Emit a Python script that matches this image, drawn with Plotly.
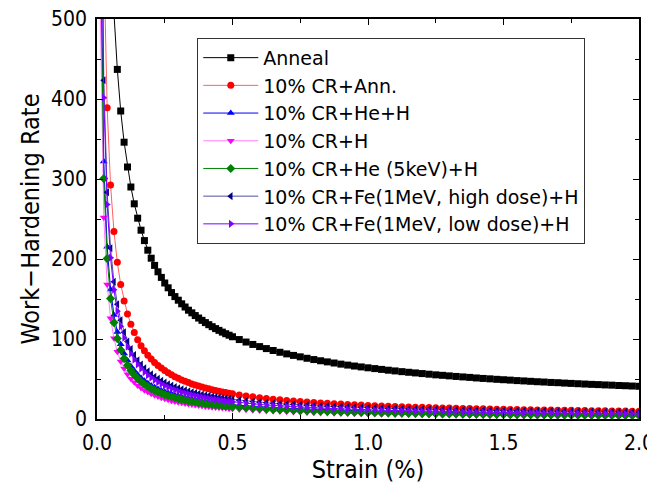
import plotly.graph_objects as go

strain = [0.0125, 0.025, 0.0375, 0.05, 0.0625, 0.075, 0.0875, 0.1, 0.1125, 0.125,
          0.1375, 0.15, 0.1625, 0.175, 0.1875, 0.2, 0.2125, 0.225, 0.2375, 0.25,
          0.2625, 0.275, 0.2875, 0.3, 0.3125, 0.325, 0.3375, 0.35, 0.3625, 0.375,
          0.3875, 0.4, 0.4125, 0.425, 0.4375, 0.45, 0.4625, 0.475, 0.4875, 0.5,
          0.525, 0.55, 0.575, 0.6, 0.625, 0.65, 0.675, 0.7, 0.725, 0.75,
          0.775, 0.8, 0.825, 0.85, 0.875, 0.9, 0.925, 0.95, 0.975, 1.0,
          1.025, 1.05, 1.075, 1.1, 1.125, 1.15, 1.175, 1.2, 1.225, 1.25,
          1.275, 1.3, 1.325, 1.35, 1.375, 1.4, 1.425, 1.45, 1.475, 1.5,
          1.525, 1.55, 1.575, 1.6, 1.625, 1.65, 1.675, 1.7, 1.725, 1.75,
          1.775, 1.8, 1.825, 1.85, 1.875, 1.9, 1.925, 1.95, 1.975, 2.0]

anneal = [2065, 1112, 782, 612, 508, 437, 385, 346, 315, 290,
          269, 251, 236, 223, 211, 201, 192, 184, 177, 170,
          164, 158, 153, 148.5, 144, 140, 136, 132.7, 129.3, 126.2,
          123.3, 120.5, 117.9, 115.4, 113, 110.8, 108.6, 106.6, 104.7, 102.8,
          99.3, 96.2, 93.2, 90.5, 88, 85.6, 83.4, 81.4, 79.5, 77.7,
          75.9, 74.3, 72.8, 71.4, 70, 68.6, 67.4, 66.2, 65.1, 64,
          63, 62, 61, 60.1, 59.2, 58.4, 57.6, 56.8, 56, 55.2,
          54.6, 53.9, 53.2, 52.6, 52, 51.3, 50.7, 50.2, 49.6, 49.1,
          48.6, 48, 47.6, 47.1, 46.6, 46.2, 45.7, 45.4, 44.9, 44.5,
          44.1, 43.7, 43.3, 43, 42.6, 42.3, 41.9, 41.6, 41.2, 40.9]

cr_ann = [1162.5, 582.5, 389.2, 292.5, 234.5, 195.8, 168.2, 147.5, 131.4, 118.5,
          108, 99.2, 91.7, 85.4, 79.8, 75, 70.7, 67, 63.6, 60.5,
          57.7, 55.2, 52.9, 50.8, 48.9, 47.1, 45.5, 43.9, 42.5, 41.2,
          39.9, 38.75, 37.7, 36.6, 35.6, 34.7, 33.9, 33, 32.2, 31.5,
          30.1, 28.9, 27.7, 26.7, 25.7, 24.8, 24, 23.2, 22.5, 21.8,
          21.2, 20.6, 20.1, 19.6, 19.1, 18.6, 18.2, 17.8, 17.4, 17,
          16.6, 16.3, 16, 15.7, 15.4, 15.1, 14.8, 14.6, 14.3, 14.1,
          13.9, 13.7, 13.4, 13.2, 13, 12.9, 12.7, 12.5, 12.3, 12.2,
          12, 11.9, 11.7, 11.6, 11.4, 11.3, 11.2, 11, 10.9, 10.8,
          10.7, 10.6, 10.4, 10.3, 10.2, 10.1, 10, 9.9, 9.8, 9.75]

cr_he_h = [642, 322, 215.3, 162, 130, 108.7, 93.4, 82, 73.1, 66,
           60.2, 55.3, 51.2, 47.7, 44.7, 42, 39.6, 37.6, 35.7, 34,
           32.5, 31.1, 29.8, 28.7, 27.6, 26.6, 25.7, 24.9, 24.1, 23.3,
           22.6, 22, 21.4, 20.8, 20.3, 19.8, 19.3, 18.8, 18.4, 18,
           17.2, 16.5, 15.9, 15.3, 14.8, 14.3, 13.85, 13.4, 13.05, 12.7,
           12.3, 12, 11.7, 11.4, 11.15, 10.9, 10.65, 10.4, 10.2, 10,
           9.8, 9.6, 9.45, 9.3, 9.1, 8.95, 8.8, 8.65, 8.55, 8.4,
           8.3, 8.15, 8.05, 7.95, 7.8, 7.7, 7.6, 7.5, 7.4, 7.35,
           7.25, 7.15, 7.1, 7, 6.9, 6.85, 6.8, 6.7, 6.65, 6.55,
           6.5, 6.45, 6.4, 6.3, 6.25, 6.2, 6.15, 6.1, 6.05, 6]

cr_h = [504, 252, 168, 126, 100.8, 84, 72, 63, 56, 50.4,
        45.8, 42, 38.8, 36, 33.6, 31.5, 29.6, 28, 26.5, 25.2,
        24, 22.9, 21.9, 21, 20.2, 19.4, 18.7, 18, 17.4, 16.8,
        16.3, 15.75, 15.3, 14.8, 14.4, 14, 13.6, 13.3, 12.9, 12.6,
        12, 11.45, 10.95, 10.5, 10.1, 9.7, 9.35, 9, 8.7, 8.4,
        8.1, 7.9, 7.65, 7.4, 7.2, 7, 6.8, 6.6, 6.45, 6.3,
        6.15, 6, 5.85, 5.7, 5.6, 5.5, 5.35, 5.25, 5.15, 5.05,
        4.95, 4.85, 4.75, 4.65, 4.6, 4.5, 4.4, 4.35, 4.25, 4.2,
        4.15, 4.05, 4, 3.95, 3.9, 3.8, 3.75, 3.7, 3.65, 3.6,
        3.55, 3.5, 3.45, 3.4, 3.35, 3.3, 3.25, 3.25, 3.2, 3.15]

cr_he5_h = [600.5, 300.5, 200.5, 150.5, 120.5, 100.5, 86.2, 75.5, 67.2, 60.5,
            55, 50.5, 46.7, 43.4, 40.5, 38, 35.8, 33.8, 32.1, 30.5,
            29.1, 27.8, 26.6, 25.5, 24.5, 23.6, 22.7, 21.9, 21.2, 20.5,
            19.9, 19.25, 18.7, 18.15, 17.6, 17.2, 16.7, 16.3, 15.9, 15.5,
            14.8, 14.1, 13.5, 13, 12.5, 12, 11.6, 11.2, 10.8, 10.5,
            10.2, 9.9, 9.6, 9.3, 9.1, 8.8, 8.6, 8.4, 8.2, 8,
            7.8, 7.6, 7.5, 7.3, 7.2, 7, 6.9, 6.75, 6.6, 6.5,
            6.4, 6.3, 6.2, 6.05, 5.95, 5.85, 5.75, 5.7, 5.6, 5.5,
            5.4, 5.35, 5.25, 5.2, 5.1, 5.05, 5, 4.9, 4.85, 4.8,
            4.7, 4.65, 4.6, 4.55, 4.5, 4.45, 4.4, 4.35, 4.3, 4.25]

cr_fe_high_h = [843.5, 423.5, 283.5, 213.5, 171.5, 143.5, 123.5, 108.5, 96.8, 87.5,
                79.9, 73.5, 68.1, 63.5, 59.5, 56, 52.9, 50.2, 47.7, 45.5,
                43.5, 41.7, 40, 38.5, 37.1, 35.8, 34.6, 33.5, 32.5, 31.5,
                30.6, 29.75, 29, 28.2, 27.5, 26.8, 26.2, 25.6, 25, 24.5,
                23.5, 22.6, 21.8, 21, 20.3, 19.65, 19.05, 18.5, 18, 17.5,
                17.05, 16.6, 16.2, 15.85, 15.5, 15.2, 14.85, 14.55, 14.3, 14,
                13.75, 13.5, 13.25, 13.05, 12.8, 12.6, 12.4, 12.25, 12.1, 11.9,
                11.75, 11.6, 11.4, 11.3, 11.1, 11, 10.9, 10.75, 10.6, 10.5,
                10.4, 10.3, 10.2, 10.1, 9.95, 9.85, 9.8, 9.7, 9.6, 9.5,
                9.4, 9.35, 9.25, 9.2, 9.1, 9, 8.95, 8.9, 8.8, 8.75]

cr_fe_low_h = [801.5, 401.5, 268.2, 201.5, 161.5, 134.8, 115.8, 101.5, 90.4, 81.5,
               74.2, 68.2, 63, 58.6, 54.8, 51.5, 48.6, 45.9, 43.6, 41.5,
               39.6, 37.9, 36.3, 34.8, 33.5, 32.3, 31.1, 30.1, 29.1, 28.2,
               27.3, 26.5, 25.7, 25, 24.4, 23.7, 23.1, 22.6, 22, 21.5,
               20.55, 19.7, 18.9, 18.2, 17.5, 16.9, 16.3, 15.8, 15.3, 14.8,
               14.4, 14, 13.6, 13.3, 12.9, 12.6, 12.3, 12, 11.8, 11.5,
               11.25, 11, 10.8, 10.6, 10.4, 10.2, 10, 9.8, 9.65, 9.5,
               9.35, 9.2, 9.05, 8.9, 8.8, 8.65, 8.5, 8.4, 8.3, 8.15,
               8.05, 7.95, 7.85, 7.75, 7.65, 7.55, 7.5, 7.4, 7.3, 7.2,
               7.15, 7.05, 7, 6.9, 6.85, 6.75, 6.7, 6.6, 6.55, 6.5]

series_names = ["Anneal", "10% CR+Ann.", "10% CR+He+H", "10% CR+H",
                "10% CR+He (5keV)+H", "10% CR+Fe(1MeV, high dose)+H",
                "10% CR+Fe(1MeV, low dose)+H"]
series_values = [anneal, cr_ann, cr_he_h, cr_h, cr_he5_h, cr_fe_high_h, cr_fe_low_h]

marker_colors = ["#000000", "#ff0000", "#0000ff", "#ff00ff", "#008000", "#000080", "#8000ff"]
line_colors = ["#000000", "#ff6060", "#0000ff", "#ff80ff", "#008000", "#5050a0", "#8000ff"]
symbols = ["square", "circle", "triangle-up", "triangle-down", "diamond",
           "triangle-left", "triangle-right"]
sizes = [7, 7, 7, 7, 7, 7, 7]

AXFONT = "Liberation Sans Narrow, DejaVu Sans Condensed, Noto Sans CJK JP, sans-serif"
LEGFONT = "DejaVu Sans, Noto Sans CJK JP, sans-serif"

fig = go.Figure()
for name, vals, mc, lc, sym, sz in zip(series_names, series_values, marker_colors,
                                       line_colors, symbols, sizes):
    fig.add_trace(go.Scatter(
        x=strain, y=vals, name=name, mode="lines+markers",
        line=dict(color=lc, width=1),
        marker=dict(color=mc, symbol=sym, size=sz, line=dict(width=0)),
    ))

axis_common = dict(
    showgrid=False, zeroline=False, showline=True, linecolor="black", linewidth=1.5,
    mirror="allticks", ticks="inside", ticklen=6, tickwidth=1.2, tickcolor="black",
    tickfont=dict(family=AXFONT, size=21, color="black"), automargin=False,
    ticklabeloverflow="allow",
)

# the page body has an 8px default margin, so margins are shifted to compensate
fig.update_layout(
    width=655, height=494,
    margin=dict(l=89, r=24, t=11, b=83),
    paper_bgcolor="white", plot_bgcolor="white",
    xaxis=dict(range=[0, 2.0], dtick=0.5, tickformat=".1f", ticklabelstandoff=4,
               minor=dict(ticks="inside", dtick=0.25, ticklen=4, tickcolor="black"),
               title=dict(text="Strain (%)", font=dict(family=AXFONT, size=25, color="black"),
                          standoff=3),
               **axis_common),
    yaxis=dict(range=[0, 500], dtick=100, ticklabelstandoff=4,
               minor=dict(ticks="inside", dtick=50, ticklen=4, tickcolor="black"),
               title=dict(text="Work−Hardening Rate", font=dict(family=AXFONT, size=25, color="black"),
                          standoff=4),
               **axis_common),
    legend=dict(x=0.185, y=0.953, xanchor="left", yanchor="top",
                bgcolor="white", bordercolor="#333333", borderwidth=1,
                font=dict(family=LEGFONT, size=19, color="black"),
                itemwidth=55, tracegroupgap=0),
    showlegend=True,
)

fig.write_html("out.html")
